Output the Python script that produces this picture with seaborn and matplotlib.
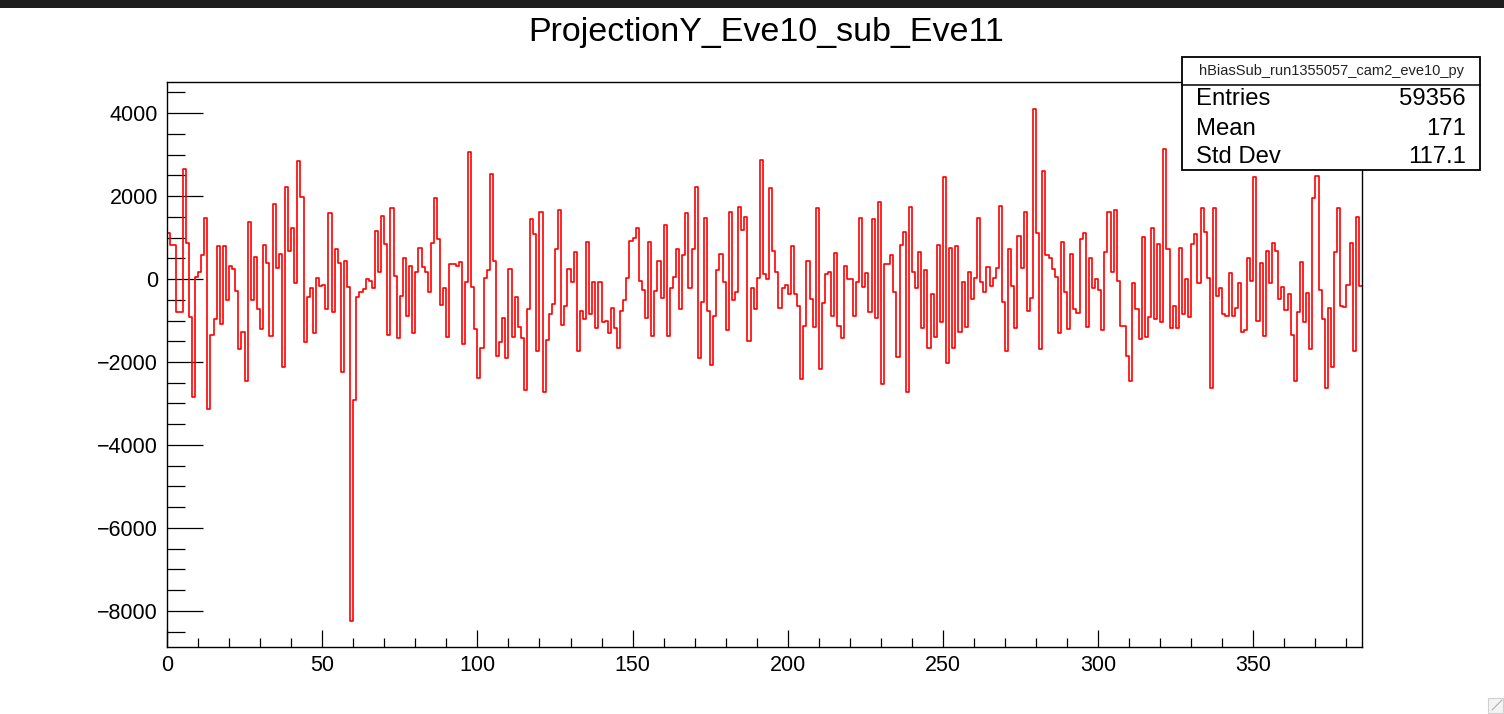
import numpy as np
import pandas as pd
import matplotlib
matplotlib.use("Agg")
import matplotlib.pyplot as plt
from matplotlib.patches import Rectangle
from matplotlib.lines import Line2D
from matplotlib.ticker import MultipleLocator, FixedLocator
import seaborn as sns

# ---------------- data ----------------
title_text = "ProjectionY_Eve10_sub_Eve11"
hist_name = "hBiasSub_run1355057_cam2_eve10_py"
stat_labels = ["Entries", "Mean", "Std Dev"]
stat_values = ["59356", "171", "117.1"]

x_major_ticks = [0, 50, 100, 150, 200, 250, 300, 350]
x_tick_labels = ["0", "50", "100", "150", "200", "250", "300", "350"]
y_major_ticks = [-8000, -6000, -4000, -2000, 0, 2000, 4000]
y_tick_labels = ["\u22128000", "\u22126000", "\u22124000", "\u22122000", "0", "2000", "4000"]

bin_values = [
    1115, 816, 816, -787, -787, 2650, 860, -905, -2835, 56,
    177, 578, 1478, -3140, -1349, -972, 795, -1092, 795, -506,
    321, 241, -289, -1694, -1269, -2457, 1365, -506, 538, -715,
    -1213, 819, 377, -1373, 1799, 257, 602, -2128, 2224, 683,
    1220, -104, 2843, 1983, -1510, -442, -225, -1293, 32, -169,
    -145, -731, 1582, -787, 715, 393, -2232, 434, -185, -8250,
    -2915, -426, -305, -250, 0, -40, -225, 1156, 177, 1518,
    835, -1349, 1702, 72, -1413, -402, 498, -883, 321, -1309,
    177, 755, 297, 177, -321, 859, 1943, 963, -626, -225,
    -1389, 361, 361, 321, 418, -1566, -80, 3067, -185, -1213,
    -2377, -1654, 32, 217, 2521, 434, -1847, -1526, -948, -1911,
    241, -1405, -442, -1164, -1429, -2674, -723, 1437, 1076, -1734,
    1606, -2714, -1469, -843, -610, 715, 1662, -1108, -650, 241,
    -80, 642, -1734, -763, -972, 899, -843, -80, -1188, -80,
    -1044, -1004, -1309, -691, -1188, -1670, -763, -506, 32, 923,
    980, 1220, -40, -265, -948, 899, -1373, -289, 434, -466,
    1300, -1373, -225, 56, 715, -723, 578, 1582, -225, 715,
    2224, -1911, -546, 1478, -763, -2072, -883, 217, 602, -80,
    -1229, 1606, -506, -305, 1726, 1180, 1502, -1486, -225, -723,
    32, 2867, 112, 0, 2200, 683, 177, -691, -225, -145,
    -361, 803, -361, -650, -2417, -1124, 434, -482, -1164, 1702,
    -2176, -586, 112, 177, -883, 618, -1124, -1413, 321, 0,
    0, -883, -80, 1478, -185, 136, -787, 1437, -948, 1863,
    -2530, 361, 361, 578, -321, -1871, 819, 1140, -2714, 1726,
    177, -225, 642, -1188, 217, -1654, -369, -1405, 819, -1044,
    2449, -2031, 755, -1654, 795, -1269, -80, -1164, 177, -482,
    32, 1478, -80, -321, 297, -161, 32, 257, 1759, -546,
    -1734, 715, -161, -1188, 1044, 273, 1606, -763, -466, 4095,
    1116, -1694, 2602, 578, 498, 241, 56, -1309, 899, -321,
    -1213, 602, -723, -827, 963, 1116, -1164, 498, -225, -8,
    -265, -1229, 642, 1606, 177, 1662, -48, -1124, -1124, -1847,
    -2457, -104, -731, -1445, 1020, -1405, -907, 1220, -972, 843,
    -1044, 3132, 715, -1188, -650, -1188, 755, -843, 0, -907,
    835, 1076, -104, 1702, 1140, 32, -2634, 1702, -402, -225,
    -843, -883, 153, -883, -691, -88, -1269, -1229, 498, -40,
    2449, -1004, 393, -1373, 675, -104, 859, 675, -482, -185,
    -747, -369, -1349, -2457, -787, 418, -1044, -329, -1686, 1943,
    2481, -265, -972, -2634, -691, -2112, 642, 1718, -650, -683,
    -145, 859, -1734, 1502, -169,
]

n_bins = len(bin_values)
bin_edges = np.arange(n_bins + 1)
# step outline: each value held from its lower edge to the next edge
step_df = pd.DataFrame({
    "edge": bin_edges,
    "value": list(bin_values) + [bin_values[-1]],
})

# ---------------- style ----------------
sns.set_theme(style="white")
plt.rcParams["font.family"] = ["Liberation Sans", "DejaVu Sans"]
plt.rcParams["axes.unicode_minus"] = True

W, H, DPI = 1504, 714, 100
fig = plt.figure(figsize=(W / DPI, H / DPI), dpi=DPI, facecolor="white")

def fx(x):
    return x / W

def fy(y):
    return 1 - y / H

ax_left, ax_right, ax_top, ax_bottom = 167, 1362, 82, 647
ax = fig.add_axes([fx(ax_left), fy(ax_bottom), fx(ax_right - ax_left), (ax_bottom - ax_top) / H])
ax.set_facecolor("white")

sns.lineplot(data=step_df, x="edge", y="value", estimator=None, sort=False,
             drawstyle="steps-post", color="#ff0000", linewidth=1.2, ax=ax)

ax.set_xlim(0, n_bins)
ax.set_ylim(-8870, 4750)
ax.set_xlabel("")
ax.set_ylabel("")

for s in ax.spines.values():
    s.set_color("black")
    s.set_linewidth(1.0)
    s.set_visible(True)

ax.xaxis.set_major_locator(FixedLocator(x_major_ticks))
ax.set_xticklabels(x_tick_labels)
ax.xaxis.set_minor_locator(MultipleLocator(10))
ax.yaxis.set_major_locator(FixedLocator(y_major_ticks))
ax.set_yticklabels(y_tick_labels)
ax.yaxis.set_minor_locator(MultipleLocator(500))

ax.tick_params(axis="y", which="major", direction="in", length=26, width=0.9, color="black",
               labelsize=15.5, pad=6.5, left=True, right=False, labelcolor="black")
ax.tick_params(axis="y", which="minor", direction="in", length=13, width=0.9, color="black",
               left=True, right=False)
ax.tick_params(axis="x", which="major", direction="in", length=12, width=0.9, color="black",
               labelsize=15.5, pad=6, bottom=True, top=False, labelcolor="black")
ax.tick_params(axis="x", which="minor", direction="in", length=6.5, width=0.9, color="black",
               bottom=True, top=False)

# title
fig.text(fx(766), fy(33), title_text, ha="center", va="center", fontsize=24.5, color="black")

# stats box
bx0, bx1, by0, by1, bsep = 1182, 1480, 57, 170, 85
fig.add_artist(Rectangle((fx(bx0), fy(by1)), fx(bx1 - bx0), (by1 - by0) / H,
                         transform=fig.transFigure, facecolor="white", edgecolor="black",
                         linewidth=1.3, zorder=5))
fig.add_artist(Line2D([fx(bx0), fx(bx1)], [fy(bsep), fy(bsep)], transform=fig.transFigure,
                      color="black", linewidth=1.1, zorder=6))
fig.text(fx((bx0 + bx1) / 2), fy(71), hist_name, ha="center", va="center", fontsize=10.5,
         color="#222222", zorder=7)
row_y = [99, 129, 157]
for lab, val, yy in zip(stat_labels, stat_values, row_y):
    fig.text(fx(1196), fy(yy), lab, ha="left", va="center", fontsize=17.2, color="black", zorder=7)
    fig.text(fx(1466), fy(yy), val, ha="right", va="center", fontsize=17.2, color="black", zorder=7)

# window frame (dark top bar of the screenshot) and resize grip
fig.add_artist(Rectangle((0, fy(8)), 1, 8 / H, transform=fig.transFigure,
                         facecolor="#1e1e1e", edgecolor="none", zorder=10))
fig.add_artist(Rectangle((fx(1488), fy(713)), fx(15), 15 / H, transform=fig.transFigure,
                         facecolor="#f4f4f4", edgecolor="#d0d0d0", linewidth=0.8, zorder=10))
fig.add_artist(Line2D([fx(1492), fx(1502)], [fy(710), fy(700)], transform=fig.transFigure,
                      color="#b0b0b0", linewidth=0.8, zorder=11))

fig.savefig("out.png", dpi=DPI, facecolor="white")
